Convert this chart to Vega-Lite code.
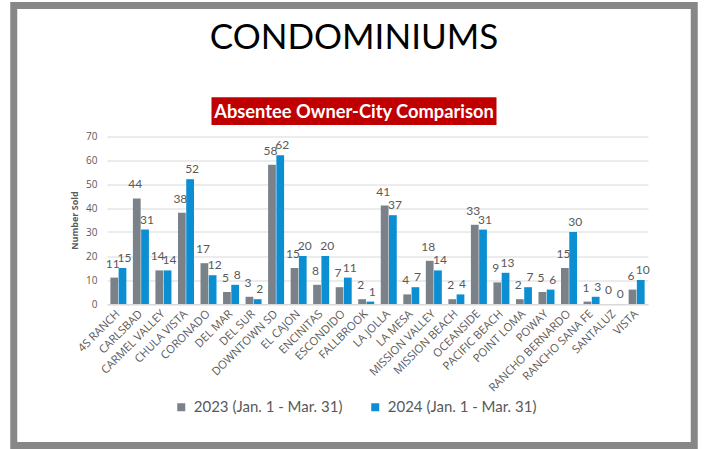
{
  "$schema": "https://vega.github.io/schema/vega-lite/v6.json",
  "width": 680.5,
  "height": 440,
  "autosize": {"type": "none"},
  "padding": {"left": 13.75, "top": 5.5, "right": 9.75, "bottom": 3.5},
  "background": "white",
  "view": {"stroke": "#878787", "strokeWidth": 7, "fill": "white"},
  "title": {"text": "CONDOMINIUMS", "font": "Lato", "fontSize": 35, "fontWeight": "normal", "color": "#000000", "anchor": "middle", "frame": "group", "offset": -50},
  "data": {"values": [
    {"city": "4S RANCH", "period": "2023 (Jan. 1 - Mar. 31)", "sold": 11},
    {"city": "4S RANCH", "period": "2024 (Jan. 1 - Mar. 31)", "sold": 15},
    {"city": "CARLSBAD", "period": "2023 (Jan. 1 - Mar. 31)", "sold": 44},
    {"city": "CARLSBAD", "period": "2024 (Jan. 1 - Mar. 31)", "sold": 31},
    {"city": "CARMEL VALLEY", "period": "2023 (Jan. 1 - Mar. 31)", "sold": 14},
    {"city": "CARMEL VALLEY", "period": "2024 (Jan. 1 - Mar. 31)", "sold": 14},
    {"city": "CHULA VISTA", "period": "2023 (Jan. 1 - Mar. 31)", "sold": 38},
    {"city": "CHULA VISTA", "period": "2024 (Jan. 1 - Mar. 31)", "sold": 52},
    {"city": "CORONADO", "period": "2023 (Jan. 1 - Mar. 31)", "sold": 17},
    {"city": "CORONADO", "period": "2024 (Jan. 1 - Mar. 31)", "sold": 12},
    {"city": "DEL MAR", "period": "2023 (Jan. 1 - Mar. 31)", "sold": 5},
    {"city": "DEL MAR", "period": "2024 (Jan. 1 - Mar. 31)", "sold": 8},
    {"city": "DEL SUR", "period": "2023 (Jan. 1 - Mar. 31)", "sold": 3},
    {"city": "DEL SUR", "period": "2024 (Jan. 1 - Mar. 31)", "sold": 2},
    {"city": "DOWNTOWN SD", "period": "2023 (Jan. 1 - Mar. 31)", "sold": 58},
    {"city": "DOWNTOWN SD", "period": "2024 (Jan. 1 - Mar. 31)", "sold": 62},
    {"city": "EL CAJON", "period": "2023 (Jan. 1 - Mar. 31)", "sold": 15},
    {"city": "EL CAJON", "period": "2024 (Jan. 1 - Mar. 31)", "sold": 20},
    {"city": "ENCINITAS", "period": "2023 (Jan. 1 - Mar. 31)", "sold": 8},
    {"city": "ENCINITAS", "period": "2024 (Jan. 1 - Mar. 31)", "sold": 20},
    {"city": "ESCONDIDO", "period": "2023 (Jan. 1 - Mar. 31)", "sold": 7},
    {"city": "ESCONDIDO", "period": "2024 (Jan. 1 - Mar. 31)", "sold": 11},
    {"city": "FALLBROOK", "period": "2023 (Jan. 1 - Mar. 31)", "sold": 2},
    {"city": "FALLBROOK", "period": "2024 (Jan. 1 - Mar. 31)", "sold": 1},
    {"city": "LA JOLLA", "period": "2023 (Jan. 1 - Mar. 31)", "sold": 41},
    {"city": "LA JOLLA", "period": "2024 (Jan. 1 - Mar. 31)", "sold": 37},
    {"city": "LA MESA", "period": "2023 (Jan. 1 - Mar. 31)", "sold": 4},
    {"city": "LA MESA", "period": "2024 (Jan. 1 - Mar. 31)", "sold": 7},
    {"city": "MISSION VALLEY", "period": "2023 (Jan. 1 - Mar. 31)", "sold": 18},
    {"city": "MISSION VALLEY", "period": "2024 (Jan. 1 - Mar. 31)", "sold": 14},
    {"city": "MISSION BEACH", "period": "2023 (Jan. 1 - Mar. 31)", "sold": 2},
    {"city": "MISSION BEACH", "period": "2024 (Jan. 1 - Mar. 31)", "sold": 4},
    {"city": "OCEANSIDE", "period": "2023 (Jan. 1 - Mar. 31)", "sold": 33},
    {"city": "OCEANSIDE", "period": "2024 (Jan. 1 - Mar. 31)", "sold": 31},
    {"city": "PACIFIC BEACH", "period": "2023 (Jan. 1 - Mar. 31)", "sold": 9},
    {"city": "PACIFIC BEACH", "period": "2024 (Jan. 1 - Mar. 31)", "sold": 13},
    {"city": "POINT LOMA", "period": "2023 (Jan. 1 - Mar. 31)", "sold": 2},
    {"city": "POINT LOMA", "period": "2024 (Jan. 1 - Mar. 31)", "sold": 7},
    {"city": "POWAY", "period": "2023 (Jan. 1 - Mar. 31)", "sold": 5},
    {"city": "POWAY", "period": "2024 (Jan. 1 - Mar. 31)", "sold": 6},
    {"city": "RANCHO BERNARDO", "period": "2023 (Jan. 1 - Mar. 31)", "sold": 15},
    {"city": "RANCHO BERNARDO", "period": "2024 (Jan. 1 - Mar. 31)", "sold": 30},
    {"city": "RANCHO SANA FE", "period": "2023 (Jan. 1 - Mar. 31)", "sold": 1},
    {"city": "RANCHO SANA FE", "period": "2024 (Jan. 1 - Mar. 31)", "sold": 3},
    {"city": "SANTALUZ", "period": "2023 (Jan. 1 - Mar. 31)", "sold": 0},
    {"city": "SANTALUZ", "period": "2024 (Jan. 1 - Mar. 31)", "sold": 0},
    {"city": "VISTA", "period": "2023 (Jan. 1 - Mar. 31)", "sold": 6},
    {"city": "VISTA", "period": "2024 (Jan. 1 - Mar. 31)", "sold": 10}
  ]},
  "layer": [
    {
      "mark": {"type": "bar"},
      "encoding": {
        "x": {
          "field": "city", "type": "nominal", "sort": null,
          "scale": {"range": [93.25, 634.25], "paddingInner": 0.29, "paddingOuter": 0.15},
          "axis": {
            "orient": "bottom", "offset": -141.5, "title": null,
            "domain": true, "domainColor": "#d9d9d9", "domainWidth": 1,
            "ticks": false, "grid": false,
            "labelAngle": -45, "labelAlign": "right", "labelBaseline": "middle",
            "labelFont": "Open Sans", "labelFontSize": 11.3, "labelColor": "#595959", "labelPadding": 8
          }
        },
        "xOffset": {"field": "period", "type": "nominal", "scale": {"paddingInner": 0.06}},
        "y": {
          "field": "sold", "type": "quantitative",
          "scale": {"domain": [0, 70], "range": [298.5, 130.5], "nice": false, "zero": true},
          "axis": {
            "orient": "left", "offset": -93.25,
            "values": [0, 10, 20, 30, 40, 50, 60, 70],
            "domain": false, "ticks": false,
            "grid": true, "gridColor": "#d9d9d9", "gridWidth": 1,
            "labelFont": "Open Sans", "labelFontSize": 10, "labelColor": "#595959", "labelPadding": 10,
            "title": "Number Sold", "titleFont": "Open Sans", "titleFontSize": 9, "titleFontWeight": "bold",
            "titleColor": "#595959", "titlePadding": 6
          }
        },
        "color": {
          "field": "period", "type": "nominal",
          "scale": {"range": ["#7a8189", "#0b8fd2"]},
          "legend": {
            "orient": "none", "legendX": 160, "legendY": 394, "direction": "horizontal",
            "title": null, "symbolType": "square", "symbolSize": 64, "symbolStrokeWidth": 0,
            "labelFont": "Lato", "labelFontSize": 15, "labelColor": "#595959", "labelOffset": 5,
            "columnPadding": 25, "padding": 0
          }
        }
      }
    },
    {
      "transform": [{"filter": "datum.period == '2023 (Jan. 1 - Mar. 31)'"}],
      "mark": {"type": "text", "baseline": "bottom", "dy": -7, "dx": -1.5, "font": "Lato", "fontSize": 12, "color": "#595959"},
      "encoding": {
        "x": {"field": "city", "type": "nominal", "sort": null},
        "xOffset": {"field": "period", "type": "nominal"},
        "y": {"field": "sold", "type": "quantitative"},
        "text": {"field": "sold", "type": "quantitative"}
      }
    },
    {
      "transform": [{"filter": "datum.period == '2024 (Jan. 1 - Mar. 31)'"}],
      "mark": {"type": "text", "baseline": "bottom", "dy": -3, "dx": 2, "font": "Lato", "fontSize": 12, "color": "#595959"},
      "encoding": {
        "x": {"field": "city", "type": "nominal", "sort": null},
        "xOffset": {"field": "period", "type": "nominal"},
        "y": {"field": "sold", "type": "quantitative"},
        "text": {"field": "sold", "type": "quantitative"}
      }
    },
    {
      "data": {"values": [{}]},
      "mark": {"type": "bar", "width": 285, "color": "#c00000"},
      "encoding": {
        "y": {"datum": 86.1, "type": "quantitative"},
        "y2": {"datum": 74.6}
      }
    },
    {
      "data": {"values": [{}]},
      "mark": {"type": "text", "text": "Absentee Owner-City Comparison", "font": "Lato", "fontSize": 18.3, "fontWeight": "bold", "color": "#ffffff", "baseline": "alphabetic", "align": "center"},
      "encoding": {
        "y": {"datum": 77.4, "type": "quantitative"}
      }
    }
  ]
}
